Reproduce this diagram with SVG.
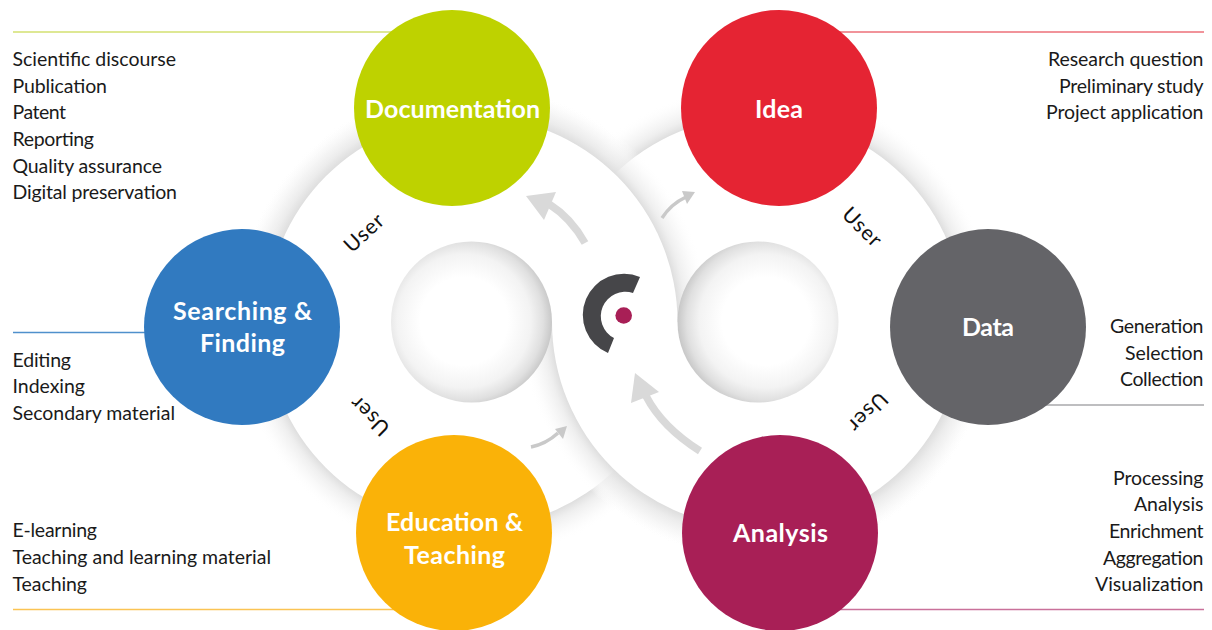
<svg xmlns="http://www.w3.org/2000/svg" width="1212" height="630" viewBox="0 0 1212 630">
<style>
text{font-family:Lato,"Noto Sans","Liberation Sans",sans-serif}
.t{font-size:19.5px;fill:#1a1a1a}
.u{font-size:21px;fill:#111;text-anchor:middle}
.l{font-size:25px;font-weight:700;fill:#fff}
.w{fill:#fff}
.lead{fill:none;stroke-width:1.3}
.big{fill:none;stroke:#d9d9d9;stroke-width:7.5}
.bigh{fill:#d9d9d9}
.sm{fill:none;stroke:#c9c9c9;stroke-width:3.5}
.smh{fill:#c9c9c9}
</style>
<defs>
<radialGradient id="shL" gradientUnits="userSpaceOnUse" cx="471.500" cy="322" r="238">
<stop offset="0.865" stop-color="#dedede"/><stop offset="0.9" stop-color="#ebebeb" stop-opacity=".8"/><stop offset="0.95" stop-color="#f7f7f7" stop-opacity=".6"/><stop offset="1" stop-color="#fff" stop-opacity="0"/>
</radialGradient>
<radialGradient id="shR" gradientUnits="userSpaceOnUse" cx="758" cy="322" r="238">
<stop offset="0.865" stop-color="#dedede"/><stop offset="0.9" stop-color="#ebebeb" stop-opacity=".8"/><stop offset="0.95" stop-color="#f7f7f7" stop-opacity=".6"/><stop offset="1" stop-color="#fff" stop-opacity="0"/>
</radialGradient>
<radialGradient id="hoL" gradientUnits="userSpaceOnUse" cx="464" cy="321" r="88">
<stop offset="0.5" stop-color="#fff"/><stop offset="0.76" stop-color="#f3f3f3"/><stop offset="0.9" stop-color="#e0e0e0"/><stop offset="1" stop-color="#c8c8c8"/>
</radialGradient>
<radialGradient id="hoR" gradientUnits="userSpaceOnUse" cx="766" cy="321" r="88">
<stop offset="0.5" stop-color="#fff"/><stop offset="0.76" stop-color="#f3f3f3"/><stop offset="0.9" stop-color="#e0e0e0"/><stop offset="1" stop-color="#c8c8c8"/>
</radialGradient>
<clipPath id="up"><rect x="0" y="0" width="1212" height="322"/></clipPath>
<clipPath id="dn"><rect x="0" y="322" width="1212" height="308"/></clipPath>
</defs>
<rect width="1212" height="630" fill="#fff"/>
<g id="rings">
<circle cx="471.500" cy="322" r="238" fill="url(#shL)"/>
<circle cx="758" cy="322" r="238" fill="url(#shR)"/>
<circle cx="471.500" cy="322" r="206" class="w"/>
<circle cx="758" cy="322" r="206" class="w"/>
<g clip-path="url(#up)">
<circle cx="471.500" cy="322" r="238" fill="url(#shL)"/>
<circle cx="471.500" cy="322" r="206" class="w"/>
</g>
<g clip-path="url(#dn)">
<circle cx="758" cy="322" r="238" fill="url(#shR)"/>
<circle cx="758" cy="322" r="206" class="w"/>
</g>
<circle cx="471.500" cy="322" r="80.500" fill="url(#hoL)"/>
<circle cx="758" cy="322" r="80.500" fill="url(#hoR)"/>
</g>
<g id="connectors">
<line class="lead" x1="13" y1="32" x2="400" y2="32" stroke="#d3e170"/>
<line class="lead" x1="820" y1="32" x2="1204" y2="32" stroke="#ec6f78"/>
<line class="lead" x1="13" y1="332.500" x2="160" y2="332.500" stroke="#4f90cc"/>
<line class="lead" x1="1030" y1="405" x2="1204" y2="405" stroke="#a9a9ab"/>
<line class="lead" x1="13" y1="609.500" x2="400" y2="609.500" stroke="#fbc453"/>
<line class="lead" x1="830" y1="609.500" x2="1204" y2="609.500" stroke="#c9719a"/>
<path class="big" d="M585 243Q571 218 549 204"/>
<polygon class="bigh" points="526,196 556,192 544,220"/>
<path class="big" d="M700 451Q662 427 646 396"/>
<polygon class="bigh" points="635,373 659,392 631,403"/>
<path class="sm" d="M662 218Q671 204 686 197"/>
<polygon class="smh" points="695,192 682,191 687,204"/>
<path class="sm" d="M531 447Q546 444 558 433"/>
<polygon class="smh" points="567,426 555,429 563,439"/>
</g>
<g id="logo">
<path d="M640 277A41 41 0 0 0 608 353L614 338A24.500 24.500 0 0 1 633 293Z" fill="#464649"/>
<circle cx="623.700" cy="315.500" r="8.300" fill="#a81f56"/>
</g>
<g id="users">
<text class="u" transform="translate(364 233) rotate(-43)" y="7" textLength="46">User</text>
<text class="u" transform="translate(862 227) rotate(45)" y="7" textLength="46">User</text>
<text class="u" transform="translate(868 412) rotate(135)" y="7" textLength="46">User</text>
<text class="u" transform="translate(370 416) rotate(-135)" y="7" textLength="46">User</text>
</g>
<g id="node-documentation">
<circle cx="452" cy="108" r="98" fill="#bed200"/>
<text class="l" x="365" y="117.500" textLength="175">Documentation</text>
<text class="t" x="12.500" y="66" textLength="163.500">Scientific discourse</text>
<text class="t" x="12.500" y="92.600" textLength="94.500">Publication</text>
<text class="t" x="12.500" y="119.300" textLength="53.500">Patent</text>
<text class="t" x="12.500" y="146" textLength="81.500">Reporting</text>
<text class="t" x="12.500" y="172.600" textLength="149.500">Quality assurance</text>
<text class="t" x="12.500" y="199.300" textLength="164.500">Digital preservation</text>
</g>
<g id="node-idea">
<circle cx="779" cy="108" r="98" fill="#e52433"/>
<text class="l" x="755" y="117.500" textLength="48">Idea</text>
<text class="t" x="1048" y="66" textLength="155.500">Research question</text>
<text class="t" x="1059" y="92.600" textLength="144.500">Preliminary study</text>
<text class="t" x="1046" y="119.300" textLength="157.500">Project application</text>
</g>
<g id="node-data">
<circle cx="988" cy="327" r="98" fill="#646468"/>
<text class="l" x="962" y="336" textLength="52">Data</text>
<text class="t" x="1110" y="333" textLength="93.500">Generation</text>
<text class="t" x="1125" y="359.600" textLength="78.500">Selection</text>
<text class="t" x="1120" y="386.300" textLength="83.500">Collection</text>
</g>
<g id="node-analysis">
<circle cx="780" cy="533" r="98" fill="#a81f56"/>
<text class="l" x="733" y="542" textLength="95">Analysis</text>
<text class="t" x="1113" y="485" textLength="90.500">Processing</text>
<text class="t" x="1134" y="511.300" textLength="69.500">Analysis</text>
<text class="t" x="1109" y="538" textLength="94.500">Enrichment</text>
<text class="t" x="1103" y="564.600" textLength="100.500">Aggregation</text>
<text class="t" x="1095" y="591" textLength="108.500">Visualization</text>
</g>
<g id="node-education">
<circle cx="454" cy="533" r="98" fill="#fab208"/>
<text class="l" x="386" y="530.500" textLength="137">Education &amp;</text>
<text class="l" x="404" y="563.500" textLength="101">Teaching</text>
<text class="t" x="12.500" y="537.300" textLength="84.500">E-learning</text>
<text class="t" x="12.500" y="564" textLength="258.500">Teaching and learning material</text>
<text class="t" x="12.500" y="590.600" textLength="74.500">Teaching</text>
</g>
<g id="node-searching">
<circle cx="242" cy="327" r="98" fill="#317ac0"/>
<text class="l" x="173" y="319.500" textLength="139">Searching &amp;</text>
<text class="l" x="200" y="351.500" textLength="85">Finding</text>
<text class="t" x="12.500" y="366.700" textLength="58.500">Editing</text>
<text class="t" x="12.500" y="393.300" textLength="72.500">Indexing</text>
<text class="t" x="12.500" y="420" textLength="162.500">Secondary material</text>
</g>
</svg>
